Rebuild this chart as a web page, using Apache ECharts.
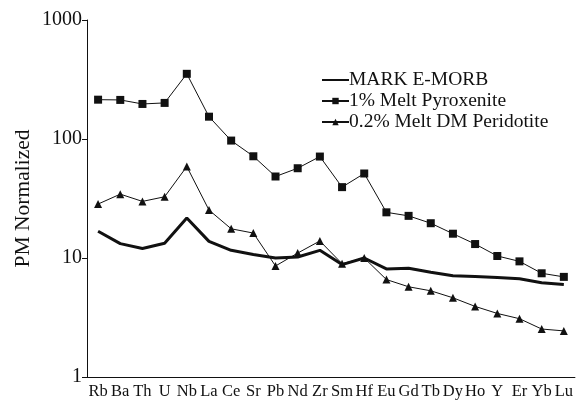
<!DOCTYPE html>
<html>
<head>
<meta charset="utf-8">
<script src="https://cdn.jsdelivr.net/npm/echarts@6/dist/echarts.min.js"></script>
<style>
  html, body { margin: 0; padding: 0; background: #fff; }
  #chart { width: 576px; height: 400px; }
</style>
</head>
<body>
<div id="chart"></div>
<script>
// Primitive-mantle normalized trace element patterns
const elements = ['Rb','Ba','Th','U','Nb','La','Ce','Sr','Pb','Nd','Zr','Sm','Hf','Eu','Gd','Tb','Dy','Ho','Y','Er','Yb','Lu'];
const markEMorb = [16.8,13.2,12.0,13.3,21.7,13.8,11.6,10.7,10.0,10.2,11.6,8.8,10.0,8.1,8.2,7.6,7.1,7.0,6.85,6.7,6.2,6.0];
const pyroxenite = [214,213,197,201,353,154,97,71.6,48.4,56.8,71.2,39.4,51.3,24.2,22.6,19.6,16.0,13.1,10.4,9.37,7.44,6.94];
const peridotite = [28.4,34.4,29.9,32.7,58.7,25.3,17.6,16.2,8.57,11.0,13.9,8.96,10.0,6.59,5.73,5.30,4.63,3.92,3.42,3.09,2.53,2.44];
const yTicks = [1, 10, 100, 1000];

const serif = 'Liberation Serif';
const ink = '#111';
const chart = echarts.init(document.getElementById('chart'), null, { renderer: 'canvas' });

chart.setOption({
  animation: false,
  backgroundColor: '#fff',
  grid: { left: 87, right: 1, top: 20, bottom: 21, containLabel: false },
  legend: {
    orient: 'vertical',
    left: 316,
    top: 65,
    itemWidth: 27,
    itemHeight: 8,
    itemGap: 1,
    textStyle: { fontFamily: serif, fontSize: 19.5, lineHeight: 18, color: ink, padding: [0, 0, 0, -5] },
    data: [
      { name: 'MARK E-MORB', itemStyle: { opacity: 0 } },
      { name: '1% Melt Pyroxenite' },
      { name: '0.2% Melt DM Peridotite' }
    ]
  },
  xAxis: {
    type: 'category',
    data: elements,
    boundaryGap: true,
    axisLine: { lineStyle: { color: ink, width: 1 } },
    axisTick: { interval: 0, length: 4, lineStyle: { color: ink } },
    axisLabel: { interval: 0, fontFamily: serif, fontSize: 16.5, color: ink, margin: 6 },
    splitLine: { show: false }
  },
  yAxis: {
    type: 'log',
    logBase: 10,
    min: yTicks[0],
    max: yTicks[yTicks.length - 1],
    name: 'PM Normalized',
    nameLocation: 'middle',
    nameGap: 53,
    nameMoveOverlap: false,
    nameTextStyle: { fontFamily: serif, fontSize: 21.5, color: ink },
    axisLine: { show: true, lineStyle: { color: ink, width: 1 } },
    axisTick: { show: true, length: 5, lineStyle: { color: ink } },
    minorTick: { show: false },
    axisLabel: { fontFamily: serif, fontSize: 20, color: ink, margin: 5, formatter: v => String(v) },
    splitLine: { show: false }
  },
  series: [
    {
      name: 'MARK E-MORB',
      type: 'line',
      data: markEMorb,
      symbol: 'none',
      lineStyle: { color: ink, width: 3 },
      itemStyle: { color: ink }
    },
    {
      name: '1% Melt Pyroxenite',
      type: 'line',
      data: pyroxenite,
      symbol: 'rect',
      symbolSize: 8,
      lineStyle: { color: ink, width: 1 },
      itemStyle: { color: ink }
    },
    {
      name: '0.2% Melt DM Peridotite',
      type: 'line',
      data: peridotite,
      symbol: 'triangle',
      symbolSize: 8,
      lineStyle: { color: ink, width: 1 },
      itemStyle: { color: ink }
    }
  ]
});
</script>
</body>
</html>
